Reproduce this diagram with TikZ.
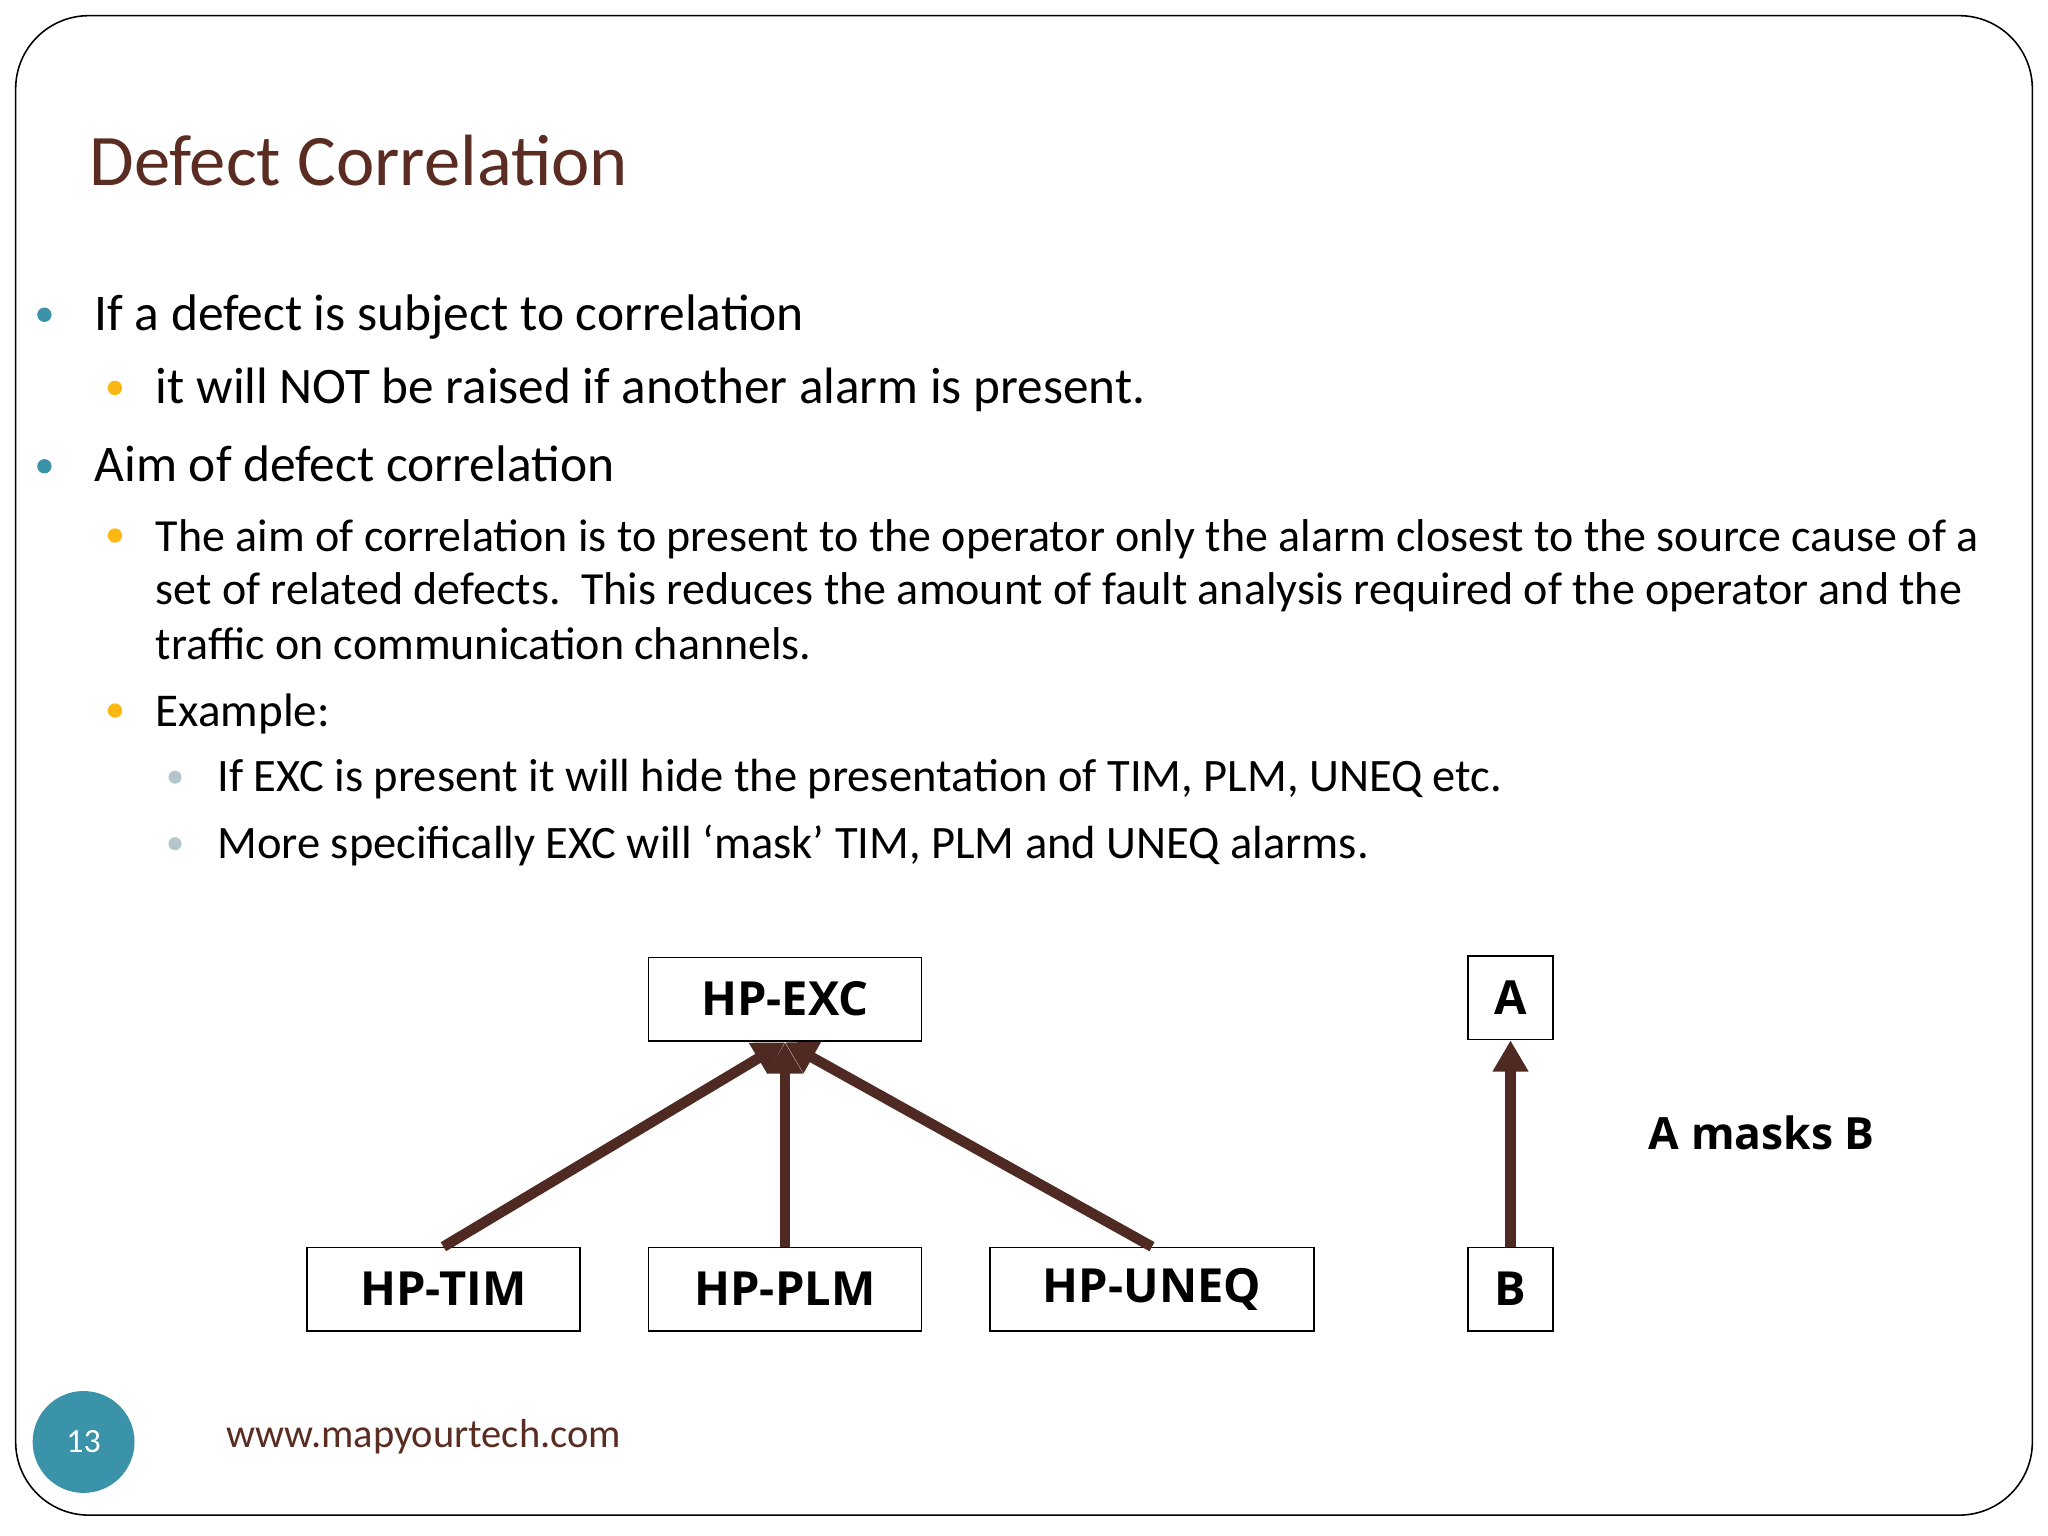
\documentclass[tikz,border=0pt]{standalone}
\usepackage{fontspec}
\setmainfont{Carlito}
\newfontfamily\boxfont{Open Sans}
\usetikzlibrary{arrows.meta}
\definecolor{ttl}{HTML}{5A2C22}
\definecolor{teal}{HTML}{3A93A8}
\definecolor{yel}{HTML}{FBB813}
\definecolor{gry}{HTML}{B3C7CB}
\definecolor{arr}{HTML}{4F2A22}
\tikzset{
 lbox/.style={draw=black,line width=0.5pt,fill=white,inner sep=0pt,font=\boxfont\bfseries\fontsize{18}{20}\selectfont},
 txt/.style={anchor=base west,inner sep=0pt,font=\fontsize{17.6}{22}\selectfont,text=black},
 bul/.style={circle,inner sep=0pt,minimum size=5.5pt},
 mk/.style={draw=arr,line width=4pt,-{Triangle[length=12pt,width=13pt]}}
}
\begin{document}
\begin{tikzpicture}[x=0.5pt,y=-0.5pt]
\useasboundingbox (0,0) rectangle (1568,1176);
\fill[white] (0,0) rectangle (1568,1176);
\draw[line width=0.6pt,rounded corners=28pt] (12,12) rectangle (1556,1160);
\node[anchor=base west,inner sep=0pt,text=ttl,font=\fontsize{27.8}{32}\selectfont] (title) at (68,142) {Defect Correlation};
\node[bul,fill=teal] (b1) at (34,241) {};
\node[txt,font=\fontsize{19.7}{22}\selectfont] (t1) at (72,253) {If a defect is subject to correlation};
\node[bul,fill=yel] (b2) at (88,297) {};
\node[txt,font=\fontsize{19.6}{22}\selectfont] (t2) at (119,309) {it will NOT be raised if another alarm is present.};
\node[bul,fill=teal] (b3) at (34,357) {};
\node[txt,font=\fontsize{19.7}{22}\selectfont] (t3) at (72,369) {Aim of defect correlation};
\node[bul,fill=yel] (b4) at (88,410) {};
\node[txt] (t4) at (119,422) {The aim of correlation is to present to the operator only the alarm closest to the source cause of a};
\node[txt] (t4b) at (119,463) {set of related defects.\ \ This reduces the amount of fault analysis required of the operator and the};
\node[txt] (t4c) at (119,505) {traffic on communication channels.};
\node[bul,fill=yel] (b5) at (88,544) {};
\node[txt,font=\fontsize{18}{22}\selectfont] (t5) at (119,556) {Example:};
\node[bul,fill=gry,minimum size=5pt] (b6) at (134,595) {};
\node[txt,font=\fontsize{17.8}{22}\selectfont] (t6) at (166,606) {If EXC is present it will hide the presentation of TIM, PLM, UNEQ etc.};
\node[bul,fill=gry,minimum size=5pt] (b7) at (134,646) {};
\node[txt,font=\fontsize{17.8}{22}\selectfont] (t7) at (166,657) {More specifically EXC will `mask' TIM, PLM and UNEQ alarms.};
\node[lbox,minimum width=104.5pt,minimum height=32pt] (exc) at (601,765) {HP-EXC};
\node[lbox,minimum width=104.5pt,minimum height=32pt] (tim) at (339.5,987) {HP-TIM};
\node[lbox,minimum width=104.5pt,minimum height=32pt] (plm) at (601,987) {HP-PLM};
\node[lbox,minimum width=124pt,minimum height=32pt] (uneq) at (882,987) {HP-UNEQ};
\node[lbox,minimum width=32.5pt,minimum height=32pt] (a) at (1156.5,764) {A};
\node[lbox,minimum width=32.5pt,minimum height=32pt] (b) at (1156.5,987) {B};
\coordinate (tip) at (601,798);
\draw[mk] (tim.north) -- (tip);
\draw[mk] (plm.north) -- (tip);
\draw[mk] (uneq.north) -- (tip);
\draw[mk] (b.north) -- (a.south);
\node[anchor=base west,inner sep=0pt,font=\boxfont\bfseries\fontsize{17}{20}\selectfont] (am) at (1262,880) {A masks B};
\node[circle,fill=teal,minimum size=39pt,inner sep=0pt,text=white,font=\fontsize{13}{14}\selectfont] (pn) at (64,1104) {13};
\node[anchor=base west,inner sep=0pt,text=ttl,font=\fontsize{15.5}{18}\selectfont] (url) at (173,1108) {www.mapyourtech.com};
\end{tikzpicture}
\end{document}
